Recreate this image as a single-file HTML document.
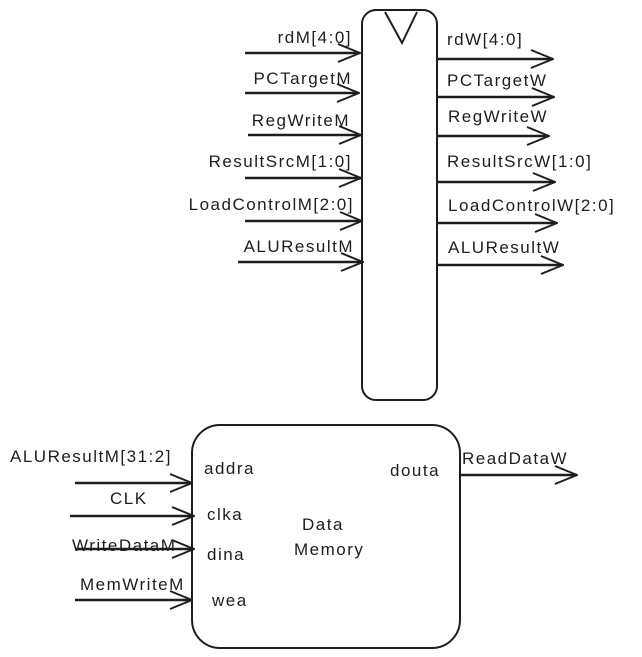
<!DOCTYPE html>
<html><head><meta charset="utf-8"><style>
html,body{margin:0;padding:0;background:#fff;}
svg{display:block}
text{font-family:"Liberation Sans","DejaVu Sans",sans-serif;font-size:17px;letter-spacing:1.5px;fill:#1e1e1e}
</style></head><body>
<svg width="642" height="657" viewBox="0 0 642 657" xmlns="http://www.w3.org/2000/svg">
<defs>
<marker id="a" viewBox="0 0 24 24" refX="23" refY="12" markerWidth="24" markerHeight="24" markerUnits="userSpaceOnUse" orient="auto">
<path d="M1,3 L23,12 L1,21" fill="none" stroke="#1e1e1e" stroke-width="2"/>
</marker>
</defs>
<g stroke="#1e1e1e" stroke-width="2" fill="none">
<rect x="362" y="10" width="75" height="390" rx="14"/>
<path d="M385,12 L402,43 L417,12"/>
<g stroke-width="2.5" marker-end="url(#a)">
<line x1="245" y1="53" x2="360" y2="53"/>
<line x1="245" y1="93" x2="359" y2="93"/>
<line x1="248" y1="135" x2="361" y2="135"/>
<line x1="245" y1="178" x2="361" y2="178"/>
<line x1="245" y1="221" x2="362" y2="221"/>
<line x1="238" y1="262" x2="363" y2="262"/>
<line x1="437" y1="59" x2="553" y2="59"/>
<line x1="437" y1="97" x2="554" y2="97"/>
<line x1="437" y1="136" x2="549" y2="136"/>
<line x1="437" y1="182" x2="555" y2="182"/>
<line x1="437" y1="223" x2="557" y2="223"/>
<line x1="437" y1="265" x2="563" y2="265"/>
<line x1="75" y1="483" x2="192" y2="483"/>
<line x1="70" y1="516" x2="194" y2="516"/>
<line x1="75" y1="549" x2="194" y2="549"/>
<line x1="75" y1="600" x2="192" y2="600"/>
<line x1="460" y1="475" x2="577" y2="475"/>
</g>
<rect x="192" y="425" width="268" height="223" rx="28"/>
</g>
<g text-anchor="end">
<text x="352" y="43">rdM[4:0]</text>
<text x="352" y="84">PCTargetM</text>
<text x="350" y="126">RegWriteM</text>
<text x="352" y="167">ResultSrcM[1:0]</text>
<text x="354" y="210">LoadControlM[2:0]</text>
<text x="354" y="252">ALUResultM</text>
</g>
<text x="447" y="45">rdW[4:0]</text>
<text x="447" y="86">PCTargetW</text>
<text x="448" y="122">RegWriteW</text>
<text x="447" y="167">ResultSrcW[1:0]</text>
<text x="448" y="211">LoadControlW[2:0]</text>
<text x="448" y="253">ALUResultW</text>
<text x="10" y="462">ALUResultM[31:2]</text>
<text x="110" y="504">CLK</text>
<text x="72" y="551">WriteDataM</text>
<text x="80" y="590">MemWriteM</text>
<text x="462" y="464">ReadDataW</text>
<text x="204" y="474">addra</text>
<text x="207" y="520">clka</text>
<text x="207" y="560">dina</text>
<text x="212" y="606">wea</text>
<text x="390" y="476">douta</text>
<text x="302" y="530">Data</text>
<text x="294" y="555">Memory</text>
</svg>
</body></html>
